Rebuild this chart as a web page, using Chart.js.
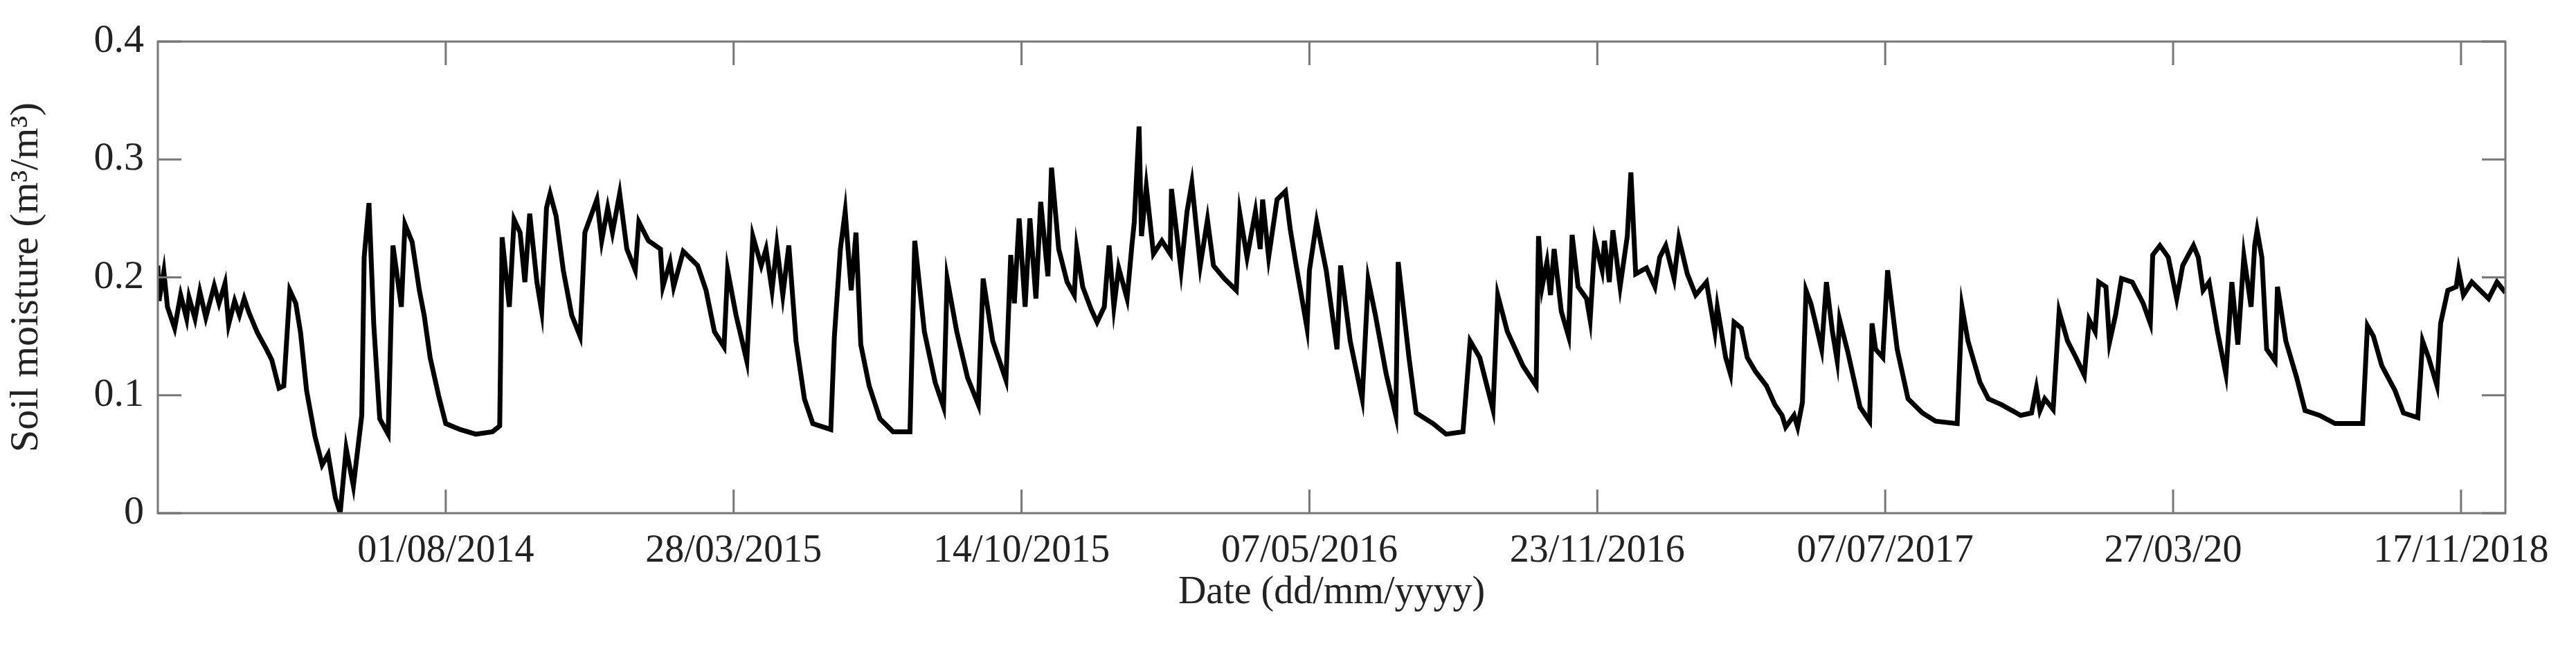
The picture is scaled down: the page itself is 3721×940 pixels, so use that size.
<!DOCTYPE html>
<html>
<head>
<meta charset="utf-8">
<script src="https://cdn.jsdelivr.net/npm/chart.js@4"></script>
<style>
  html, body { margin: 0; padding: 0; background: #fff; }
  #wrap { width: 3721px; height: 940px; }
</style>
</head>
<body>
<div id="wrap"><canvas id="soilChart" width="3721" height="940"></canvas></div>
<script>
// Day index (days since start of record) and soil moisture (m3/m3)
const days = [
  0,1,5,8,14,19,24,26,31,35,40,47,51,56,59,64,68,72,76,83,90,95,101,105,110,115,119,124,131,137,142,148,152,157,163,170,172,176,180,185,192,196,203,206,212,218,222,227,234,240,252,265,279,285,287,293,297,302,306,310,316,320,324,327,332,338,345,352,356,361,366,370,375,379,385,391,398,401,409,419,421,427,430,438,450,457,464,472,475,482,491,496,503,507,512,516,521,526,532,539,546,561,564,569,573,578,582,
  586,593,602,613,627,631,639,648,655,658,666,675,684,688,696,707,711,714,718,723,727,732,736,742,745,751,758,764,766,771,778,783,789,793,797,801,808,812,814,818,820,824,830,837,844,845,853,858,862,869,875,880,889,899,902,908,915,919,921,926,933,940,944,949,958,960,966,974,983,986,994,1004,1009,1015,1024,1032,1034,1043,1049,1063,1074,1088,1094,1102,1113,1117,1125,1138,1149,1151,1154,1158,1161,1164,1170,1176,1179,1184,1191,1194,1198,1204,1206,1210,1213,1219,1225,1228,1232,1241,1248,1252,1257,1264,1268,1275,1282,1291,1298,
  1300,1307,1311,1314,1320,1325,1332,1341,1348,1354,1357,1364,1367,1371,1374,1378,1382,1387,1391,1396,1400,1402,1409,1419,1427,1429,1432,1438,1442,1450,1459,1471,1482,1500,1504,1509,1519,1526,1537,1553,1562,1566,1569,1573,1580,1585,1592,1599,1606,1610,1615,1618,1624,1627,1632,1637,1646,1655,1661,1663,1669,1676,1683,1688,1697,1701,1705,1710,1717,1724,1729,1734,1739,1745,1748,1750,1754,1758,1765,1767,1774,1783,1790,1802,1815,1829,1838,1842,1847,1854,1865,1872,1884,1888,1893,1900,1903,1909,1916,1918,1922,1929,1936,1943,1950,1957
];
const moisture = [
  .21,.18,.205,.175,.157,.185,.165,.183,.165,.188,.166,.193,.178,.195,.16,.18,.168,.182,.17,.153,.14,.13,.106,.108,.189,.178,.153,.104,.065,.041,.05,.013,0,.055,.023,.083,.217,.263,.16,.08,.067,.227,.175,.245,.23,.189,.168,.132,.1,.076,.071,.067,.069,.074,.234,.175,.249,.238,.196,.254,.196,.171,.259,.271,.252,.206,.168,.15,.238,.252,.266,.231,.259,.238,.271,.224,.206,.247,.231,.224,.192,.213,.192,.222,.21,.189,.154,.141,.206,.168,.129,.235,.21,.224,.189,.227,.185,.227,.146,.097,.076,.071,.15,.224,.256,.189,.238,
  .143,.108,.08,.069,.069,.231,.154,.111,.09,.199,.154,.115,.092,.199,.146,.113,.219,.178,.25,.175,.25,.182,.264,.201,.293,.224,.196,.185,.224,.192,.173,.162,.175,.227,.175,.208,.182,.227,.247,.328,.235,.277,.22,.231,.22,.275,.206,.256,.28,.21,.249,.21,.199,.189,.254,.217,.256,.224,.266,.217,.266,.273,.241,.21,.157,.206,.247,.206,.139,.21,.146,.097,.198,.168,.118,.083,.213,.132,.085,.076,.067,.069,.146,.132,.088,.185,.154,.125,.108,.235,.192,.213,.185,.224,.171,.15,.236,.192,.182,.164,.231,.206,.231,.196,.24,.192,.235,.289,.203,.208,.192,.217,.227,.199,.233,.203,.185,.196,.154,
  .175,.132,.118,.162,.157,.132,.12,.108,.092,.083,.073,.083,.073,.094,.189,.178,.161,.139,.196,.154,.129,.164,.136,.09,.078,.161,.139,.132,.206,.139,.097,.085,.078,.076,.175,.146,.111,.097,.092,.083,.085,.106,.087,.097,.088,.171,.146,.132,.117,.164,.154,.196,.192,.145,.168,.199,.196,.178,.161,.219,.227,.217,.182,.21,.227,.217,.189,.196,.154,.118,.196,.143,.218,.175,.227,.24,.217,.139,.129,.192,.146,.115,.087,.083,.076,.076,.076,.159,.15,.125,.104,.085,.081,.146,.132,.108,.161,.189,.192,.206,.185,.196,.189,.182,.196,.187
];
const tickDays = [240, 480, 720, 960, 1200, 1440, 1680, 1920];
const tickLabels = ['01/08/2014', '28/03/2015', '14/10/2015', '07/05/2016', '23/11/2016', '07/07/2017', '27/03/20', '17/11/2018'];
const yTicks = [0, 0.1, 0.2, 0.3, 0.4];

const AXIS_GREY = '#777';
const FONT = 'Liberation Serif';

// box frame plus inward tick marks like the original figure
const frameTicks = {
  id: 'frameTicks',
  afterDraw(chart) {
    const { ctx, chartArea: a, scales: { x, y } } = chart;
    ctx.save();
    ctx.strokeStyle = AXIS_GREY;
    ctx.lineWidth = 3;
    ctx.strokeRect(a.left, a.top, a.right - a.left, a.bottom - a.top);
    const len = 34;
    tickDays.forEach(d => {
      const px = x.getPixelForValue(d);
      ctx.beginPath();
      ctx.moveTo(px, a.bottom); ctx.lineTo(px, a.bottom - len);
      ctx.moveTo(px, a.top); ctx.lineTo(px, a.top + len);
      ctx.stroke();
    });
    yTicks.forEach(v => {
      const py = y.getPixelForValue(v);
      ctx.beginPath();
      ctx.moveTo(a.left, py); ctx.lineTo(a.left + len, py);
      ctx.moveTo(a.right, py); ctx.lineTo(a.right - len, py);
      ctx.stroke();
    });
    ctx.restore();
  }
};

new Chart(document.getElementById('soilChart').getContext('2d'), {
  type: 'line',
  data: {
    datasets: [{
      data: days.map((d, i) => ({ x: d, y: moisture[i] })),
      borderColor: '#000',
      borderWidth: 7,
      pointRadius: 0,
      tension: 0,
      fill: false
    }]
  },
  options: {
    responsive: false,
    animation: false,
    layout: { padding: { top: 60, right: 102, left: 0, bottom: 46 } },
    plugins: { legend: { display: false }, tooltip: { enabled: false } },
    scales: {
      x: {
        type: 'linear',
        min: 0,
        max: 1957,
        afterBuildTicks: s => { s.ticks = tickDays.map(v => ({ value: v })); },
        afterFit: s => { s.height = 153; },
        grid: { display: false, drawTicks: false },
        border: { display: false },
        ticks: {
          color: '#222',
          font: { family: FONT, size: 56 },
          padding: 22,
          maxRotation: 0,
          autoSkip: false,
          callback: v => tickLabels[tickDays.indexOf(v)]
        },
        title: {
          display: true,
          text: 'Date (dd/mm/yyyy)',
          color: '#222',
          font: { family: FONT, size: 56 },
          padding: { top: 0 }
        }
      },
      y: {
        min: 0,
        max: 0.4,
        afterBuildTicks: s => { s.ticks = yTicks.map(v => ({ value: v })); },
        afterFit: s => { s.width = 228; },
        grid: { display: false, drawTicks: false },
        border: { display: false },
        ticks: {
          color: '#222',
          font: { family: FONT, size: 58 },
          padding: 20,
          callback: v => (v === 0 ? '0' : v.toFixed(1))
        },
        title: {
          display: true,
          text: 'Soil moisture (m³/m³)',
          color: '#222',
          font: { family: FONT, size: 58 },
          padding: { bottom: 4 }
        }
      }
    }
  },
  plugins: [frameTicks]
});
</script>
</body>
</html>
